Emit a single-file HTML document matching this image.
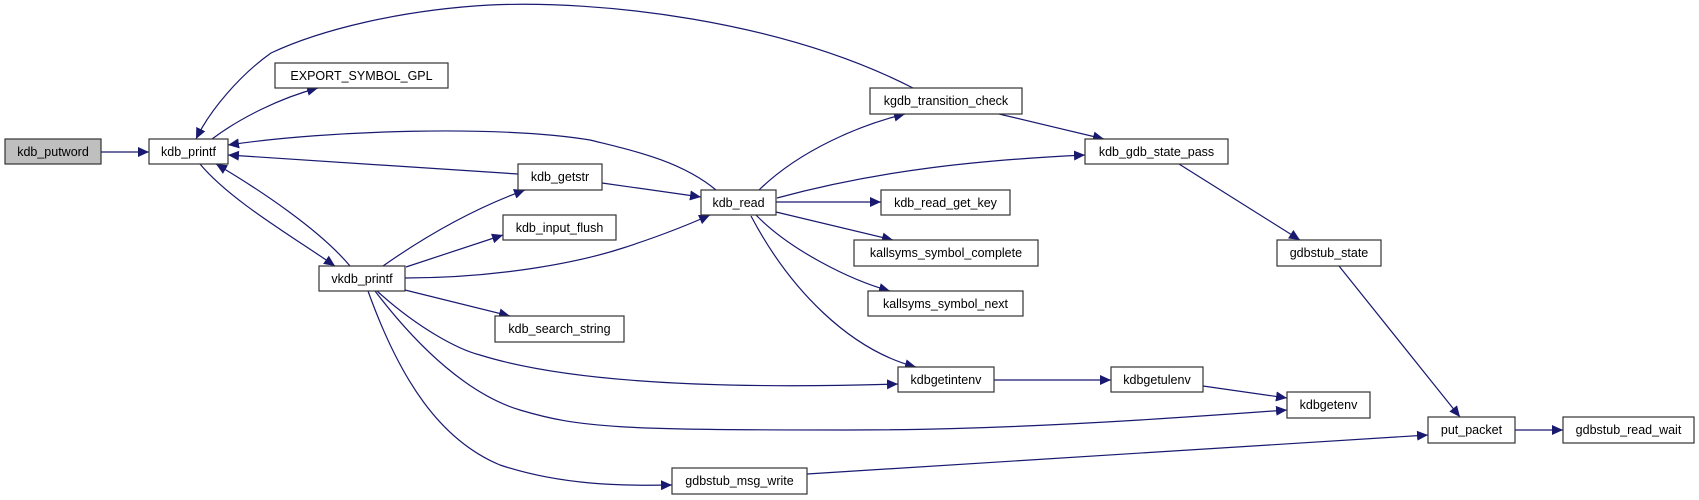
<!DOCTYPE html>
<html><head><meta charset="utf-8"><style>
html,body{margin:0;padding:0;background:#fff;}
svg{display:block;}
text{font-family:"Liberation Sans",sans-serif;font-size:12.5px;fill:#000;}
</style></head><body>
<svg width="1699" height="500" viewBox="0 0 1699 500" xmlns="http://www.w3.org/2000/svg">
<defs>
<marker id="a" markerUnits="userSpaceOnUse" markerWidth="12" markerHeight="10" refX="11" refY="5" orient="auto">
<path d="M0,0 L11,5 L0,10 Z" fill="#191970"/>
</marker>
</defs>
<g fill="none" stroke="#191970" stroke-width="1.2" marker-end="url(#a)">
<path d="M101,152 L149,152"/>
<path d="M212,139 C240,118 280,98 318,88"/>
<path d="M913,88 C780,20 600,0 490,5 C400,10 320,30 271,53 C240,75 210,110 196,139"/>
<path d="M716,190 C680,160 630,150 590,140 C500,125 330,130 228,145"/>
<path d="M518,174 L228,155"/>
<path d="M200,164 C230,200 290,235 335,266"/>
<path d="M350,266 C320,230 260,190 216,164"/>
<path d="M383,266 C420,240 470,210 525,190"/>
<path d="M406,267 L503,235"/>
<path d="M405,278 C500,278 580,262 623,248 C660,236 690,224 710,215"/>
<path d="M405,290 L510,316"/>
<path d="M377,291 C420,330 460,350 480,355 C560,380 700,390 898,384"/>
<path d="M375,291 C420,350 470,395 520,410 C580,428 620,430 850,430 C1000,430 1150,420 1287,410"/>
<path d="M368,291 C400,380 440,440 500,465 C560,485 620,486 672,485"/>
<path d="M602,183 L701,197"/>
<path d="M759,190 C800,150 860,125 905,114"/>
<path d="M777,198 C880,170 980,160 1085,155"/>
<path d="M776,202 L881,202"/>
<path d="M776,212 L893,240"/>
<path d="M756,215 C790,250 850,280 890,291"/>
<path d="M751,216 C790,290 850,350 916,367"/>
<path d="M999,114 L1104,139"/>
<path d="M1179,164 L1300,240"/>
<path d="M1339,266 L1460,417"/>
<path d="M994,380 L1111,380"/>
<path d="M1203,386 L1287,398"/>
<path d="M807,474 L1428,435"/>
<path d="M1515,430 L1563,430"/>
</g>
<g stroke="#333" stroke-width="1.2" fill="#fff">
<rect x="5" y="139" width="96" height="25" fill="#bfbfbf"/>
<rect x="149" y="139" width="79" height="25"/>
<rect x="275" y="63" width="173" height="25"/>
<rect x="518" y="164" width="84" height="26"/>
<rect x="503" y="215" width="113" height="25"/>
<rect x="319" y="266" width="86" height="25"/>
<rect x="495" y="316" width="129" height="26"/>
<rect x="701" y="190" width="75" height="25"/>
<rect x="672" y="468" width="135" height="26"/>
<rect x="870" y="88" width="152" height="26"/>
<rect x="1085" y="139" width="143" height="25"/>
<rect x="881" y="190" width="129" height="25"/>
<rect x="854" y="240" width="184" height="26"/>
<rect x="868" y="291" width="155" height="25"/>
<rect x="1277" y="240" width="104" height="26"/>
<rect x="898" y="367" width="96" height="25"/>
<rect x="1111" y="367" width="92" height="25"/>
<rect x="1287" y="392" width="83" height="26"/>
<rect x="1428" y="417" width="87" height="26"/>
<rect x="1563" y="417" width="131" height="26"/>
</g>
<g text-anchor="middle">
<text x="53" y="156">kdb_putword</text>
<text x="188.5" y="156">kdb_printf</text>
<text x="361.5" y="80">EXPORT_SYMBOL_GPL</text>
<text x="560" y="181">kdb_getstr</text>
<text x="559.5" y="232">kdb_input_flush</text>
<text x="362" y="283">vkdb_printf</text>
<text x="559.5" y="333">kdb_search_string</text>
<text x="738.5" y="207">kdb_read</text>
<text x="739.5" y="485">gdbstub_msg_write</text>
<text x="946" y="105">kgdb_transition_check</text>
<text x="1156.5" y="156">kdb_gdb_state_pass</text>
<text x="945.5" y="207">kdb_read_get_key</text>
<text x="946" y="257">kallsyms_symbol_complete</text>
<text x="945.5" y="308">kallsyms_symbol_next</text>
<text x="1329" y="257">gdbstub_state</text>
<text x="946" y="384">kdbgetintenv</text>
<text x="1157" y="384">kdbgetulenv</text>
<text x="1328.5" y="409">kdbgetenv</text>
<text x="1471.5" y="434">put_packet</text>
<text x="1628.5" y="434">gdbstub_read_wait</text>
</g>
</svg>
</body></html>
